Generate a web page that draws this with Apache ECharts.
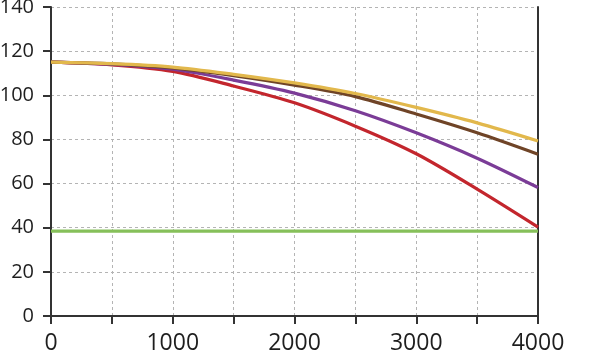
<!DOCTYPE html>
<html>
<head>
<meta charset="utf-8">
<script src="https://cdn.jsdelivr.net/npm/echarts@6/dist/echarts.min.js"></script>
<style>
html,body{margin:0;padding:0;background:#fff;}
#c{width:600px;height:353px;}
</style>
</head>
<body>
<div id="c"></div>
<script>
var xValues = [0, 500, 1000, 1500, 2000, 2500, 3000, 3500, 4000];
var goldValues   = [115, 114.3, 112.8, 109.5, 105.6, 100.8, 94.5, 87.5, 79.3];
var brownValues  = [115, 114.2, 112.4, 108.9, 104.6, 99.4, 91.5, 83.0, 73.3];
var purpleValues = [115, 114.0, 111.8, 106.9, 101.0, 93.0, 83.0, 71.5, 58.2];
var redValues    = [115, 113.8, 110.8, 104.2, 96.6, 86.0, 73.5, 57.5, 40.3];
var greenValues  = [38.5, 38.5, 38.5, 38.5, 38.5, 38.5, 38.5, 38.5, 38.5];

function pairs(vals){ return xValues.map(function(x,i){ return [x, vals[i]]; }); }

var fontFam = 'Open Sans, Lato, sans-serif';
var chart = echarts.init(document.getElementById('c'), null, {renderer:'canvas'});
function line(name, vals, color, z){
  return {name:name, type:'line', data:pairs(vals), smooth:0.3, symbol:'none',
          lineStyle:{color:color, width:3.2}, z:z, animation:false};
}
chart.setOption({
  animation:false,
  grid:{left:51, right:62, top:7, bottom:37, containLabel:false, outerBoundsMode:'none'},
  xAxis:{type:'value', min:0, max:4000, interval:500,
    axisLine:{show:true, lineStyle:{color:'#333', width:2}},
    axisTick:{show:true, length:8, lineStyle:{color:'#333', width:2}},
    axisLabel:{color:'#1e1e1e', fontSize:23, fontFamily:fontFam, margin:16,
      formatter:function(v){ return v % 1000 === 0 ? String(v) : ''; }},
    splitLine:{show:true, lineStyle:{color:'#b4b4b4', type:[3,3], width:1}}
  },
  yAxis:[{type:'value', min:0, max:140, interval:20,
    axisLine:{show:true, lineStyle:{color:'#333', width:2}},
    axisTick:{show:true, length:8, lineStyle:{color:'#333', width:2}},
    axisLabel:{color:'#1e1e1e', fontSize:20, fontFamily:fontFam, margin:17},
    splitLine:{show:true, lineStyle:{color:'#b4b4b4', type:[3,3], width:1}}
  },{type:'value', min:0, max:140, interval:20, position:'right',
    axisLine:{show:true, onZero:false, lineStyle:{color:'#333', width:2}},
    axisTick:{show:false}, axisLabel:{show:false}, splitLine:{show:false}
  }],
  series:[
    line('green', greenValues, '#86c05a', 2),
    line('red', redValues, '#c3262d', 3),
    line('purple', purpleValues, '#7b3c97', 4),
    line('brown', brownValues, '#6f4427', 5),
    line('gold', goldValues, '#e2b84c', 6)
  ]
});
</script>
</body>
</html>
